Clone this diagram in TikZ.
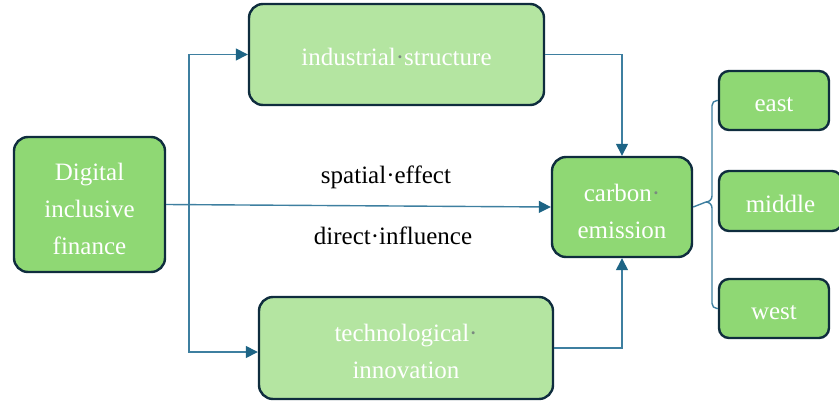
\documentclass[tikz,border=0pt]{standalone}
\usepackage{fontspec}
\setmainfont{Liberation Serif}
\usetikzlibrary{arrows.meta}
\definecolor{midgreen}{HTML}{8FD874}
\definecolor{lightgreen}{HTML}{B4E5A1}
\definecolor{boxedge}{HTML}{0F2D3E}
\definecolor{linkblue}{HTML}{3E7FA0}
\definecolor{tipblue}{HTML}{1D6485}
\definecolor{dotgray}{HTML}{7A8A80}
\newcommand{\wdot}{{\color{dotgray}·}}
\tikzset{
  box/.style={draw=boxedge, line width=2.4pt, rounded corners=14pt, inner sep=0pt},
  darkbox/.style={box, fill=midgreen},
  palebox/.style={box, fill=lightgreen},
  smallbox/.style={darkbox, rounded corners=10pt},
  boxtext/.style={text=white, align=center, inner sep=0pt,
    font=\fontsize{25}{37}\selectfont},
  conn/.style={draw=linkblue, line width=1.4pt},
  arr/.style={conn, -{Triangle[length=12pt,width=12pt,color=tipblue]}},
  lbl/.style={font=\fontsize{25}{30}\selectfont, text=black, inner sep=0pt}
}
\begin{document}
\begin{tikzpicture}[x=1pt,y=-1pt]
\useasboundingbox (0,0) rectangle (839,405);

% boxes
\node[darkbox, minimum width=151pt, minimum height=135pt] (dif) at (89.5,204.5) {};
\node[palebox, minimum width=295pt, minimum height=101pt] (ind) at (396.5,54.5) {};
\node[palebox, minimum width=294pt, minimum height=102pt] (tec) at (406,348) {};
\node[darkbox, minimum width=140pt, minimum height=100pt] (car) at (622,207) {};
\node[smallbox, minimum width=110pt, minimum height=59pt] (east) at (774,100.5) {};
\node[smallbox, minimum width=123pt, minimum height=60pt] (mid) at (780.5,201) {};
\node[smallbox, minimum width=110pt, minimum height=59pt] (west) at (774,308.5) {};

% box texts
\node[boxtext] (dif-t) at ([yshift=-4pt]dif.center) {Digital\\inclusive\\finance};
\node[boxtext] (ind-t) at ([yshift=-2pt]ind.center) {industrial\wdot structure};
\node[boxtext] (tec-t) at ([yshift=-3pt]tec.center) {technological\wdot\\innovation};
\node[boxtext] (car-t) at ([yshift=-4pt]car.center) {carbon\wdot\\emission};
\node[boxtext] (east-t) at ([yshift=-4pt]east.center) {east};
\node[boxtext] (mid-t) at ([yshift=-3pt]mid.center) {middle};
\node[boxtext] (west-t) at ([yshift=-4pt]west.center) {west};

% edge labels
\node[lbl] (sp) at (386,177) {spatial·effect};
\node[lbl] (di) at (393,236) {direct·influence};

% connectors
\coordinate (split) at (189,204.5);
\draw[arr] (dif.east) -- (car.west);
\draw[arr] (split) |- (ind.west);
\draw[arr] (split) |- ([yshift=-4pt]tec.west);
\draw[arr] (ind.east) -| (car.north);
\draw[arr] (tec.east) -| (car.south);

% brace to the regions
\coordinate (brace) at (712,202);
\draw[conn, rounded corners=5pt] (east.west) -| ([yshift=6pt]brace);
\draw[conn, rounded corners=5pt] (west.west) -| ([yshift=-6pt]brace);
\draw[conn] (car.east) -- ([xshift=-6pt]brace)
  to[out=0,in=-90] ([yshift=6pt]brace);
\draw[conn] ([xshift=-6pt]brace) to[out=0,in=90] ([yshift=-6pt]brace);
\end{tikzpicture}
\end{document}
